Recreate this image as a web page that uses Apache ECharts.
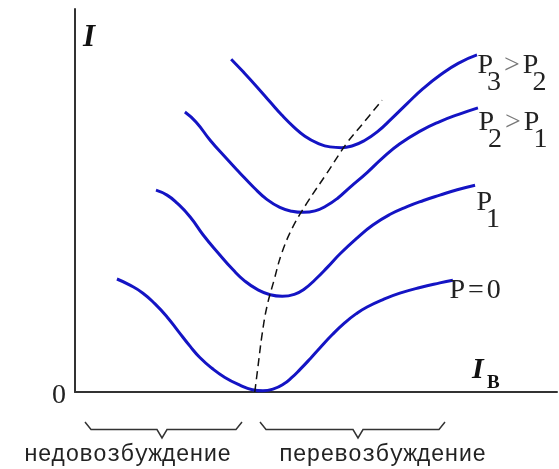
<!DOCTYPE html>
<html><head><meta charset="utf-8">
<script src="https://cdn.jsdelivr.net/npm/echarts@6/dist/echarts.min.js"></script>
<style>html,body{margin:0;padding:0;background:#fff}#c{width:559px;height:469px}</style>
</head><body><div id="c"></div>
<script>
// ---- data (schematic units) ----
const curveP0X = [8.7, 11.4, 14.1, 16.6, 19.1, 21.4, 23.9, 25.9, 28.4, 31.1, 34.2, 36.8, 39.0, 41.2, 43.2, 45.0, 46.7, 48.8, 50.8, 53.4, 56.0, 58.3, 60.6, 64.0, 67.4, 71.6, 75.7, 78.4];
const curveP0Y = [29.5, 27.9, 25.8, 23.0, 19.6, 15.9, 11.9, 9.0, 6.2, 3.8, 1.8, 0.6, 0.3, 0.8, 2.0, 3.8, 5.9, 8.7, 11.5, 15.0, 18.1, 20.4, 22.2, 24.2, 25.8, 27.3, 28.5, 29.2];
const curveP1X = [16.8, 19.1, 21.2, 23.9, 26.6, 29.7, 32.8, 35.3, 37.8, 40.5, 43.0, 45.5, 47.6, 49.8, 52.4, 55.0, 58.5, 61.8, 65.4, 68.9, 72.3, 75.7, 79.3, 83.0];
const curveP1Y = [52.7, 51.4, 49.3, 45.7, 41.0, 36.3, 31.9, 28.9, 26.8, 25.4, 25.0, 25.5, 26.9, 29.3, 32.6, 36.1, 40.2, 43.6, 46.4, 48.4, 50.0, 51.4, 52.8, 54.0];
const curveP2X = [22.8, 25.1, 28.0, 31.1, 34.2, 37.1, 39.8, 42.5, 45.0, 47.4, 49.8, 52.0, 54.5, 57.1, 60.6, 63.9, 67.4, 71.6, 75.7, 79.6, 83.6];
const curveP2Y = [73.1, 70.5, 65.8, 61.4, 57.2, 53.4, 50.3, 48.2, 47.2, 46.9, 47.3, 48.5, 50.6, 53.5, 57.3, 61.2, 64.8, 68.1, 70.6, 72.5, 74.2];
const curveP3X = [32.4, 34.9, 37.8, 40.5, 42.9, 45.3, 47.7, 50.3, 52.9, 55.3, 57.6, 60.0, 62.7, 65.8, 68.9, 72.2, 75.7, 79.5, 83.4];
const curveP3Y = [86.9, 83.6, 79.6, 75.7, 72.3, 69.3, 66.8, 65.0, 64.0, 63.8, 64.3, 65.6, 67.9, 71.5, 75.3, 79.2, 82.7, 85.8, 88.0];
const minLocusX = [37.3, 38.0, 38.8, 39.8, 41.3, 42.9, 45.2, 48.1, 52.3, 56.4, 59.8, 63.7];
const minLocusY = [0, 7.0, 14.9, 22.2, 29.2, 36.3, 43.1, 49.3, 57.2, 65.0, 70.2, 76.2];
const curveLabels = ['P3>P2', 'P2>P1', 'P1', 'P=0'];
const regionLabels = ['недовозбуждение', 'перевозбуждение'];
const yTickLabels = ['0'];

const zip = (xs, ys) => xs.map((x, i) => [x, ys[i]]);
const blue = '#1414c4';

const chart = echarts.init(document.getElementById('c'), null, {renderer: 'canvas'});

const curveSeries = [[curveP0X, curveP0Y], [curveP1X, curveP1Y], [curveP2X, curveP2Y], [curveP3X, curveP3Y]]
  .map(([xs, ys]) => ({
    type: 'line', data: zip(xs, ys), smooth: 0.5, symbol: 'none', silent: true,
    lineStyle: {color: blue, width: 3}
  }));

const option = {
  animation: false,
  backgroundColor: '#fff',
  grid: {left: 75, right: 2, top: 9, bottom: 77},
  xAxis: {
    type: 'value', min: 0, max: 100,
    axisLine: {lineStyle: {color: '#333', width: 2}},
    axisTick: {show: false}, axisLabel: {show: false}, splitLine: {show: false}
  },
  yAxis: {
    type: 'value', min: 0, max: 100, interval: 100,
    axisLine: {show: true, lineStyle: {color: '#333', width: 2}},
    axisTick: {show: false}, splitLine: {show: false}, axisLabel: {show: false}
  },
  series: curveSeries.concat([{
    type: 'line', data: zip(minLocusX, minLocusY), smooth: 0.4, symbol: 'none', silent: true,
    lineStyle: {color: '#111', width: 1.5, type: [8, 5]}
  }])
};
chart.setOption(option);

// ---- text annotations ----
const mctx = document.createElement('canvas').getContext('2d');
function txt(text, x, y, font, fill, align) {
  return {type: 'text', silent: true, z: 100,
    style: {text, x, y, font, fill: fill || '#222',
      align: align || 'left', verticalAlign: 'middle',
      textAlign: align || 'left', textVerticalAlign: 'middle'}};
}
function layoutLabel(text, x0, yc) {
  const font = '28px "Liberation Serif"';
  mctx.font = font;
  const els = [];
  let x = x0;
  for (let i = 0; i < text.length; i++) {
    const ch = text[i];
    const sub = /\d/.test(ch) && text[i - 1] === 'P';
    const op = ch === '>' || ch === '=';
    if (sub) x -= 6;
    if (op) x += 3;
    els.push(txt(ch, x, yc + (sub ? 17 : 0), font, ch === '>' ? '#777' : '#222'));
    x += mctx.measureText(ch).width;
    if (op) x += 3;
  }
  return els;
}
const labelAnchors = [[477.5, 65.5], [478.5, 122.5], [476.5, 202.5], [449.5, 291]];
let g = [];
curveLabels.forEach((t, i) => { g = g.concat(layoutLabel(t, labelAnchors[i][0], labelAnchors[i][1])); });

// origin tick label
const origin = chart.convertToPixel({gridIndex: 0}, [0, 0]);
g.push(txt(yTickLabels[0], origin[0] - 9, origin[1] + 4, '28px "Liberation Serif"', '#222', 'right'));

// axis names
g.push(txt('I', 83, 38, 'italic bold 31px "Liberation Serif"', '#111'));
g.push(txt('I', 472, 370, 'italic bold 30px "Liberation Serif"', '#111'));
g.push(txt('B', 487, 383, 'bold 19px "Liberation Serif"', '#111'));

// braces
function brace(x1, x2, xt) {
  return {type: 'polyline', silent: true,
    shape: {points: [[x1, 422], [x1 + 6, 429.5], [xt - 5, 429.5], [xt, 438], [xt + 5, 429.5], [x2 - 6, 429.5], [x2, 422]]},
    style: {stroke: '#333', lineWidth: 1.5, fill: null}};
}
g.push(brace(85, 242, 162));
g.push(brace(260, 445, 358));
g.push(txt(regionLabels[0], 127.5, 455, '23px "Liberation Mono"', '#222', 'center'));
g.push(txt(regionLabels[1], 382.5, 455, '23px "Liberation Mono"', '#222', 'center'));

chart.setOption({graphic: {elements: g}});
</script>
</body></html>
